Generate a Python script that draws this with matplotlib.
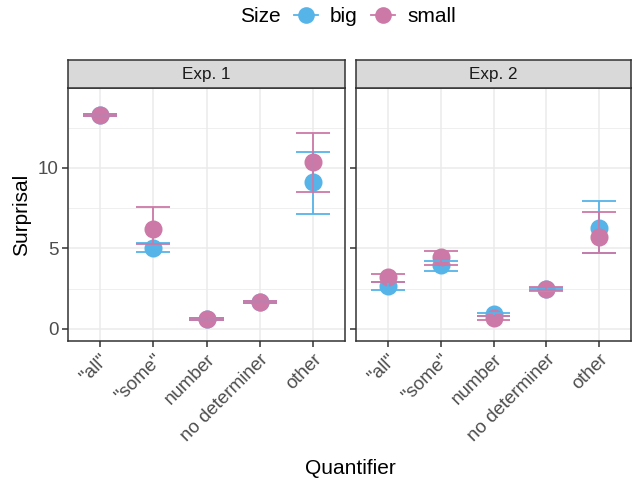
import matplotlib
matplotlib.use("Agg")
from matplotlib import pyplot as plt
from matplotlib.lines import Line2D
import numpy as np

plt.rcParams['font.family'] = ['Liberation Sans', 'DejaVu Sans']

quantifiers = ['"all"', '"some"', 'number', 'no determiner', 'other']
experiments = ['Exp. 1', 'Exp. 2']
sizes = ['big', 'small']
colours = {'big': '#56B4E9', 'small': '#CC79A7'}

# mean surprisal, lower and upper error bar, per experiment and size
mean = {
    ('Exp. 1', 'big'):   [13.3, 5.05, 0.62, 1.68, 9.1],
    ('Exp. 1', 'small'): [13.3, 6.2, 0.6, 1.66, 10.35],
    ('Exp. 2', 'big'):   [2.65, 3.95, 0.9, 2.45, 6.3],
    ('Exp. 2', 'small'): [3.2, 4.45, 0.66, 2.5, 5.73],
}
lower = {
    ('Exp. 1', 'big'):   [13.25, 4.8, 0.57, 1.6, 7.14],
    ('Exp. 1', 'small'): [13.25, 5.26, 0.55, 1.6, 8.5],
    ('Exp. 2', 'big'):   [2.4, 3.62, 0.8, 2.38, 4.74],
    ('Exp. 2', 'small'): [2.94, 4.0, 0.56, 2.42, 4.7],
}
upper = {
    ('Exp. 1', 'big'):   [13.35, 5.36, 0.67, 1.76, 11.0],
    ('Exp. 1', 'small'): [13.35, 7.56, 0.65, 1.74, 12.2],
    ('Exp. 2', 'big'):   [2.9, 4.24, 1.0, 2.55, 7.97],
    ('Exp. 2', 'small'): [3.43, 4.86, 0.8, 2.58, 7.29],
}

W, H = 632, 483
fig = plt.figure(figsize=(W / 100, H / 100), dpi=100)

def box(x0, y0, x1, y1):
    return [x0 / W, 1 - y1 / H, (x1 - x0) / W, (y1 - y0) / H]

panels = [(68, 345), (356, 631)]
x = np.arange(1, len(quantifiers) + 1)

for k, (exp, (px0, px1)) in enumerate(zip(experiments, panels)):
    ax = fig.add_axes(box(px0, 88, px1, 341))
    ax.set_facecolor('white')
    ax.set_xlim(0.4, 5.6)
    ax.set_ylim(-0.75, 14.97)
    ax.set_xticks(x)
    ax.set_yticks([0, 5, 10])
    ax.set_yticks([2.5, 7.5, 12.5], minor=True)
    ax.grid(True, which='major', color='#EBEBEB', lw=1.1)
    ax.grid(True, which='minor', axis='y', color='#EBEBEB', lw=0.55)
    ax.set_axisbelow(True)
    for s in ax.spines.values():
        s.set_color('#333333')
        s.set_linewidth(1.1)
    ax.tick_params(which='major', length=4, width=1.1, color='#333333',
                   labelcolor='#4D4D4D', labelsize=13.5, pad=3)
    ax.tick_params(which='minor', length=0)
    ax.set_xticklabels(quantifiers, rotation=45, ha='right', va='top',
                       rotation_mode='anchor')
    if k == 1:
        ax.set_yticklabels([])
    for sz in sizes:
        ax.plot(x, mean[(exp, sz)], 'o', ms=13, color=colours[sz],
                mec='none', zorder=3)
    for sz in sizes:
        lo = np.array(lower[(exp, sz)])
        hi = np.array(upper[(exp, sz)])
        ax.vlines(x, lo, hi, color=colours[sz], lw=1.3, zorder=4)
        ax.hlines(lo, x - 0.32, x + 0.32, color=colours[sz], lw=1.3, zorder=4)
        ax.hlines(hi, x - 0.32, x + 0.32, color=colours[sz], lw=1.3, zorder=4)

    st = fig.add_axes(box(px0, 60, px1, 88))
    st.set_facecolor('#D9D9D9')
    st.set_xticks([])
    st.set_yticks([])
    for s in st.spines.values():
        s.set_color('#333333')
        s.set_linewidth(1.1)
    st.text(0.5, 0.5, exp, transform=st.transAxes, ha='center', va='center',
            fontsize=12.3, color='#1A1A1A')

fig.text(350 / W, 1 - 468 / H, 'Quantifier', ha='center', va='center',
         fontsize=15)
fig.text(22 / W, 1 - 215 / H, 'Surprisal', ha='center', va='center',
         rotation=90, fontsize=15)

handles = [Line2D([0], [0], color=colours[sz], marker='o', ms=12, mec='none',
                  lw=1.3) for sz in sizes]
fig.text(240 / W, 1 - 17 / H, 'Size', ha='left', va='center', fontsize=15)
fig.legend(handles, sizes, loc='center left',
           bbox_to_anchor=(294 / W, 1 - 17 / H), borderpad=0,
           borderaxespad=0, ncol=2, frameon=False, fontsize=15,
           handlelength=1.15, handletextpad=0.58, columnspacing=0.63)

fig.savefig('out.png', dpi=100)
